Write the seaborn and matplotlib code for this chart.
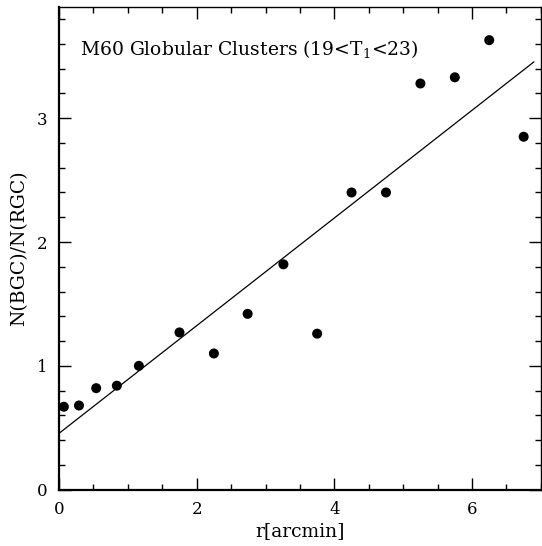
import matplotlib
matplotlib.use("Agg")
import matplotlib.pyplot as plt
import seaborn as sns
import pandas as pd
import numpy as np
from matplotlib.ticker import MultipleLocator

# binned ratio of blue to red globular clusters
r_arcmin = [0.07, 0.29, 0.54, 0.84, 1.16, 1.75, 2.25, 2.74, 3.26, 3.75,
            4.25, 4.75, 5.25, 5.75, 6.25, 6.75]
ratio = [0.67, 0.68, 0.82, 0.84, 1.00, 1.27, 1.10, 1.42, 1.82, 1.26,
         2.40, 2.40, 3.28, 3.33, 3.63, 2.85]

# linear fit drawn over the data
fit_x = [0.0, 6.9]
fit_y = [0.455, 3.455]

df = pd.DataFrame({"r": r_arcmin, "ratio": ratio})
fit = pd.DataFrame({"r": fit_x, "ratio": fit_y})

sns.set_style("ticks")
plt.rcParams["font.family"] = ["DejaVu Serif"]
plt.rcParams["text.color"] = "black"
plt.rcParams["axes.labelcolor"] = "black"

fig = plt.figure(figsize=(5.42, 5.46), dpi=100)
ax = fig.add_axes([0.1089, 0.1031, 0.889, 0.8846])

sns.lineplot(x="r", y="ratio", data=fit, color="black", linewidth=0.9, ax=ax)
sns.scatterplot(x="r", y="ratio", data=df, color="black", s=52,
                edgecolor="none", ax=ax, zorder=3)

ax.set_xlim(0, 7)
ax.set_ylim(0, 3.9)
ax.xaxis.set_major_locator(MultipleLocator(2))
ax.xaxis.set_minor_locator(MultipleLocator(0.5))
ax.yaxis.set_major_locator(MultipleLocator(1))
ax.yaxis.set_minor_locator(MultipleLocator(0.2))
ax.tick_params(which="both", direction="in", top=True, right=True,
               labelsize=12, colors="black")
ax.tick_params(which="major", length=8.5, width=1)
ax.tick_params(which="minor", length=4.3, width=1)
ax.tick_params(axis="x", pad=8)
ax.tick_params(axis="y", pad=8.5)

for side in ["left", "bottom"]:
    ax.spines[side].set_linewidth(1.6)
    ax.spines[side].set_color("black")
for side in ["top", "right"]:
    ax.spines[side].set_linewidth(1.0)
    ax.spines[side].set_visible(True)
    ax.spines[side].set_color("black")

ax.set_xlabel("r[arcmin]", fontsize=13.5, labelpad=3)
ax.set_ylabel("N(BGC)/N(RGC)", fontsize=13.5, labelpad=6)

ax.text(0.044, 0.91, "M60 Globular Clusters (19<T$_{\\mathregular{1}}$<23)",
        transform=ax.transAxes, fontsize=13.5, va="center", ha="left")

fig.savefig("out.png", dpi=100)
